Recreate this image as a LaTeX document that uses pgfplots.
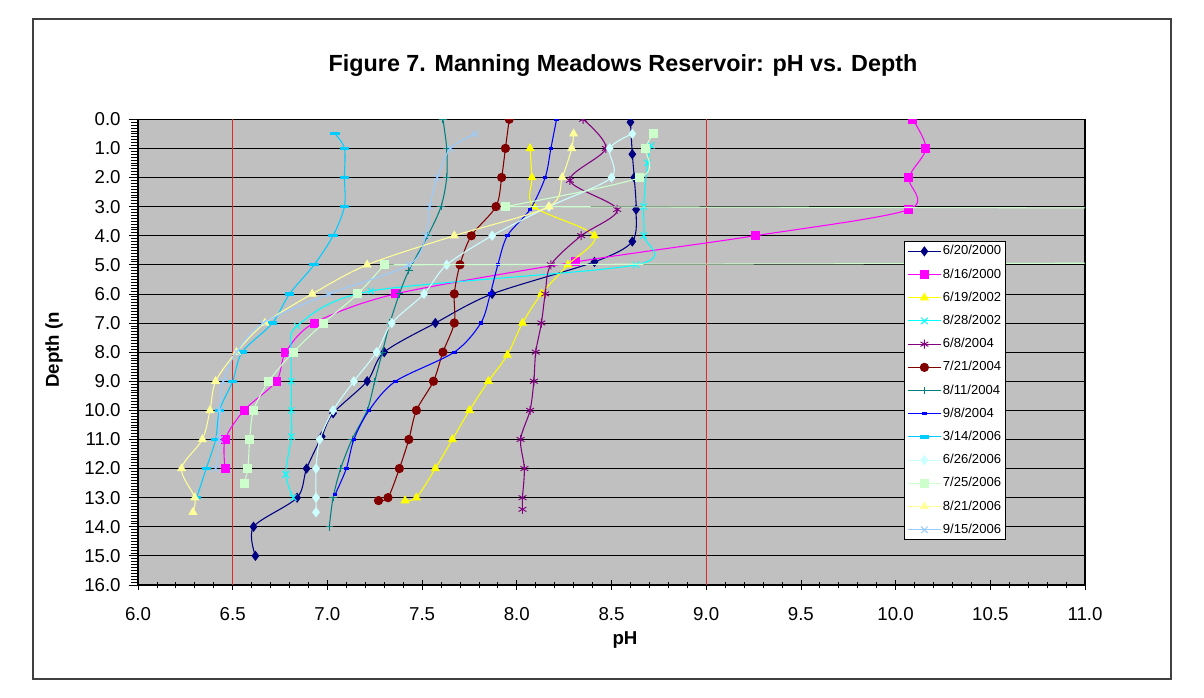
\documentclass[border=0pt]{standalone}
\usepackage{fontspec}
\setmainfont{Liberation Sans}
\usepackage{pgfplots}
\pgfplotsset{compat=1.18}
\definecolor{plotgray}{RGB}{192,192,192}
\definecolor{limred}{RGB}{225,40,40}
\definecolor{c1}{RGB}{0,0,128}
\definecolor{c2}{RGB}{255,0,255}
\definecolor{c3}{RGB}{255,255,0}
\definecolor{c4}{RGB}{0,255,255}
\definecolor{c5}{RGB}{128,0,128}
\definecolor{c6}{RGB}{128,0,0}
\definecolor{c7}{RGB}{0,128,128}
\definecolor{c8}{RGB}{0,0,255}
\definecolor{c9}{RGB}{0,204,255}
\definecolor{c10}{RGB}{204,255,255}
\definecolor{c11}{RGB}{204,255,204}
\definecolor{c12}{RGB}{255,255,153}
\definecolor{c13}{RGB}{153,204,255}
\pgfplotsset{ser/.style={color=#1, line width=0.8pt, smooth, mark options={solid, fill=#1, line width=0.7pt}}}

\begin{document}
\begin{tikzpicture}
\path[use as bounding box] (-103.5pt,-84.75pt) rectangle (799.5pt,438.75pt);
\draw[line width=0.8pt, black!75] (-78.75pt,-70.5pt) rectangle (774.75pt,424.5pt);
\begin{axis}[
    at={(0pt,0pt)}, anchor=south west, scale only axis,
    width=710.25pt, height=349.3pt,
    xmin=6, xmax=11, ymin=0, ymax=16, y dir=reverse,
    xtick={6,6.5,7,7.5,8,8.5,9,9.5,10,10.5,11},
    ytick={0,1,2,3,4,5,6,7,8,9,10,11,12,13,14,15,16},
    minor x tick num=4, minor y tick num=9,
    xtick pos=left, ytick pos=left,
    tick align=center,
    major tick length=7pt, minor tick length=5pt,
    major y tick style={xshift=-3.5pt},
    minor y tick style={xshift=-2.5pt},
    tick style={black, line width=0.6pt},
    axis line style={black, line width=1.1pt},
    axis background/.style={fill=plotgray},
    ymajorgrids=true,
    major grid style={black, line width=0.6pt},
    clip marker paths=true,
    /pgf/number format/assume math mode=true,
    /pgf/number format/fixed,
    /pgf/number format/fixed zerofill,
    /pgf/number format/precision=1,
    ticklabel style={font=\fontsize{14}{16}\selectfont},
    yticklabel={\pgfmathprintnumber{\tick}\hspace*{6pt}},
    xticklabel style={yshift=-10pt},
    legend style={at={(0.809,0.7387)}, anchor=north west, draw=black, fill=white, line width=0.6pt,
        font=\fontsize{9.8}{11}\selectfont, inner xsep=2pt, inner ysep=2pt, row sep=6.4pt,
        nodes={inner sep=1pt, text height=7.2pt, text depth=1.8pt}},
    legend cell align=left,
    legend image code/.code={\draw[mark repeat=2,mark phase=2] plot coordinates {(0pt,0pt) (12.5pt,0pt) (25pt,0pt)};},
]
\addplot[limred, line width=1pt, forget plot] coordinates {(6.5,0)(6.5,16)};
\addplot[limred, line width=1pt, forget plot] coordinates {(9.0,0)(9.0,16)};

\addplot[ser=c1, mark=diamond*, mark size=3.3pt] coordinates {
(8.60,0.1)(8.61,1.2)(8.62,2.0)(8.63,3.1)(8.61,4.2)(8.41,4.9)(7.87,6.0)(7.57,7.0)
(7.30,8.0)(7.21,9.0)(7.03,10.1)(6.97,10.9)(6.89,12.0)(6.84,13.0)(6.61,14.0)(6.62,15.0)};
\addlegendentry{6/20/2000}

\addplot[ser=c2, mark=square*, mark size=3pt] coordinates {
(10.09,0.0)(10.16,1.0)(10.07,2.0)(10.07,3.1)(9.26,4.0)(8.31,4.9)(7.36,6.0)(6.93,7.0)
(6.78,8.0)(6.73,9.0)(6.56,10.0)(6.46,11.0)(6.46,12.0)};
\addlegendentry{8/16/2000}

\addplot[ser=c3, mark=triangle*, mark size=3.3pt] coordinates {
(8.07,1.0)(8.08,2.0)(8.09,3.0)(8.41,4.0)(8.27,5.0)(8.13,6.0)(8.03,7.0)(7.95,8.1)
(7.85,9.0)(7.75,10.0)(7.66,11.0)(7.57,12.0)(7.47,13.0)(7.41,13.1)};
\addlegendentry{6/19/2002}

\addplot[ser=c4, mark=x, mark size=3.4pt] coordinates {
(8.71,0.9)(8.69,1.5)(8.67,3.0)(8.67,4.0)(8.63,5.0)(7.23,5.9)(6.84,7.1)(6.81,8.0)
(6.81,9.0)(6.81,10.0)(6.81,10.9)(6.78,12.2)(6.82,13.0)};
\addlegendentry{8/28/2002}

\addplot[ser=c5, mark=asterisk, mark size=3.4pt] coordinates {
(8.35,0.0)(8.47,1.0)(8.28,2.1)(8.53,3.1)(8.34,4.0)(8.18,5.0)(8.15,6.0)(8.13,7.0)
(8.10,8.0)(8.09,9.0)(8.07,10.0)(8.02,11.0)(8.04,12.0)(8.03,13.0)(8.03,13.4)};
\addlegendentry{6/8/2004}

\addplot[ser=c6, mark=*, mark size=3.1pt] coordinates {
(7.96,0.0)(7.94,1.0)(7.92,2.0)(7.89,3.0)(7.76,4.0)(7.70,5.0)(7.67,6.0)(7.67,7.0)
(7.61,8.0)(7.56,9.0)(7.47,10.0)(7.43,11.0)(7.38,12.0)(7.32,13.0)(7.27,13.1)};
\addlegendentry{7/21/2004}

\addplot[ser=c7, mark=+, mark size=2.8pt] coordinates {
(7.61,0.0)(7.63,1.0)(7.63,2.0)(7.60,3.0)(7.53,4.0)(7.43,5.2)(7.38,6.0)(7.33,7.0)
(7.29,8.0)(7.25,9.0)(7.21,10.0)(7.13,11.0)(7.07,12.0)(7.03,13.0)(7.01,14.0)};
\addlegendentry{8/11/2004}

\addplot[ser=c8, mark=-, mark size=1.7pt, mark options={line width=2.3pt}] coordinates {
(8.21,0.0)(8.18,1.0)(8.15,2.0)(8.07,3.1)(7.95,4.0)(7.90,5.0)(7.86,6.0)(7.81,7.0)
(7.67,8.0)(7.36,9.0)(7.22,10.0)(7.14,11.0)(7.10,12.0)(7.04,12.9)};
\addlegendentry{9/8/2004}

\addplot[ser=c9, mark=-, mark size=3.5pt, mark options={line width=2.5pt}] coordinates {
(7.04,0.5)(7.09,1.0)(7.09,2.0)(7.09,3.0)(7.03,4.0)(6.93,5.0)(6.80,6.0)(6.71,7.0)
(6.55,8.0)(6.50,9.0)(6.43,10.0)(6.41,11.0)(6.36,12.0)(6.31,13.0)};
\addlegendentry{3/14/2006}

\addplot[ser=c10, mark=diamond*, mark size=3.3pt] coordinates {
(8.61,0.5)(8.49,1.0)(8.50,2.0)(8.17,3.0)(7.87,4.0)(7.63,5.0)(7.51,6.0)(7.34,7.0)
(7.26,8.0)(7.14,9.0)(7.03,10.0)(6.96,11.0)(6.94,12.0)(6.94,13.0)(6.94,13.5)};
\addlegendentry{6/26/2006}

\addplot[ser=c11, mark=square*, mark size=3pt] coordinates {
(8.72,0.5)(8.68,1.0)(8.65,2.0)(7.94,3.0)};
\addlegendentry{7/25/2006}
\addplot[c11, line width=0.8pt, forget plot] coordinates {(7.94,3.0)(75,4.0)(7.30,5.0)};
\addplot[ser=c11, mark=square*, mark size=3pt, forget plot] coordinates {
(7.30,5.0)(7.16,6.0)(6.98,7.0)(6.82,8.0)(6.69,9.0)(6.61,10.0)(6.59,11.0)(6.58,12.0)(6.56,12.5)};

\addplot[ser=c12, mark=triangle*, mark size=3.3pt] coordinates {
(8.30,0.5)(8.29,1.0)(8.24,2.0)(8.17,3.0)(7.67,4.0)(7.21,5.0)(6.92,6.0)(6.67,7.0)
(6.52,8.0)(6.41,9.0)(6.38,10.0)(6.34,11.0)(6.23,12.0)(6.30,13.0)(6.29,13.5)};
\addlegendentry{8/21/2006}

\addplot[ser=c13, mark=x, mark size=3.4pt] coordinates {
(7.78,0.5)(7.65,1.0)(7.58,2.0)(7.54,3.0)(7.52,4.0)(7.43,5.0)(7.01,6.0)(6.66,7.0)
(6.52,8.0)(6.45,9.0)(6.43,10.0)(6.43,11.0)(6.41,12.0)};
\addlegendentry{9/15/2006}
\end{axis}
\node[font=\fontsize{17.5}{20}\selectfont\bfseries] at (363.75pt,389.25pt) {Figure 7. Manning Meadows Reservoir: pH vs. Depth};
\node[font=\fontsize{14}{16}\selectfont\bfseries] at (365.25pt,-41pt) {pH};
\node[font=\fontsize{14}{16}\selectfont\bfseries, rotate=90] at (-63pt,176.25pt) {Depth (n};
\end{tikzpicture}
\end{document}
